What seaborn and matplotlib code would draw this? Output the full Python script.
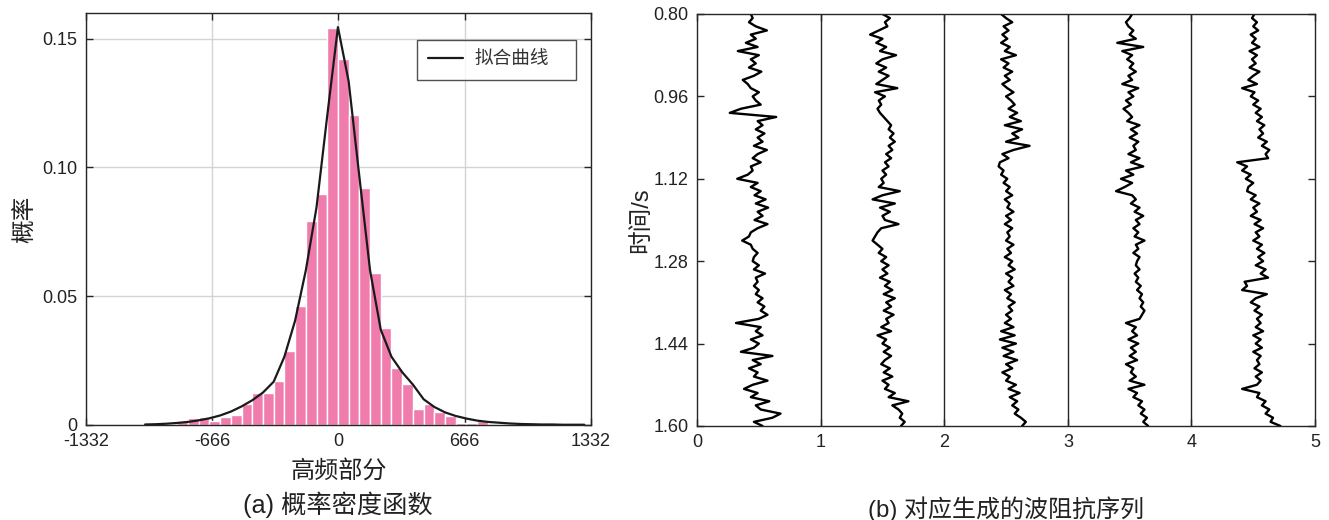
import numpy as np
import pandas as pd
import matplotlib
matplotlib.use("Agg")
import matplotlib.pyplot as plt
import seaborn as sns

# ---------------- data: (a) histogram of high-frequency part ----------------
hist_start = -1020.0      # left edge of first bin
hist_width = 56.5         # bin width
hist_heights = [0.0004, 0.0003, 0.0005, 0.0017, 0.0027, 0.0030, 0.0017, 0.0030,
                0.0039, 0.0082, 0.0126, 0.0126, 0.0170, 0.0289, 0.0462, 0.0791,
                0.0899, 0.1543, 0.1422, 0.1203, 0.0920, 0.0592, 0.0376, 0.0223,
                0.0159, 0.0061, 0.0082, 0.0049, 0.0036, 0.0006, 0.0008, 0.0017,
                0.0003, 0.0002, 0.0001, 0.0001, 0.0000, 0.0000, 0.0000, 0.0001,
                0.0006]
# fitted curve evaluated at the bin edges
fit_curve = [0.0002, 0.0003, 0.0005, 0.0008, 0.0012, 0.0018, 0.0026, 0.0037,
             0.0052, 0.0072, 0.0096, 0.0126, 0.0168, 0.0265, 0.0405, 0.0600,
             0.0845, 0.1200, 0.1545, 0.1335, 0.0965, 0.0600, 0.0370, 0.0265,
             0.0205, 0.0157, 0.0100, 0.0070, 0.0049, 0.0035, 0.0025, 0.0017,
             0.0012, 0.0009, 0.0006, 0.0004, 0.0003, 0.0002, 0.0002, 0.0001,
             0.0001, 0.0001]
hist_xticks = [-1332, -666, 0, 666, 1332]
hist_xticklabels = ["-1332", "-666", "0", "666", "1332"]
hist_yticks = [0, 0.05, 0.10, 0.15]
hist_yticklabels = ["0", "0.05", "0.10", "0.15"]

# ---------------- data: (b) impedance traces (offset within each column) ----------------
t_start, t_end, n_samples = 0.80, 1.60, 101
trace1 = [0.435, 0.45, 0.42, 0.475, 0.565, 0.435, 0.475, 0.395, 0.49, 0.33,
          0.50, 0.435, 0.475, 0.42, 0.52, 0.46, 0.37, 0.41, 0.435, 0.50,
          0.45, 0.475, 0.515, 0.355, 0.265, 0.64, 0.49, 0.53, 0.475, 0.545,
          0.49, 0.53, 0.46, 0.565, 0.49, 0.45, 0.515, 0.435, 0.45, 0.41,
          0.325, 0.49, 0.435, 0.515, 0.465, 0.555, 0.475, 0.575, 0.49, 0.53,
          0.465, 0.57, 0.49, 0.435, 0.42, 0.365, 0.435, 0.45, 0.49, 0.46,
          0.45, 0.50, 0.46, 0.55, 0.475, 0.49, 0.46, 0.50, 0.475, 0.53,
          0.49, 0.545, 0.515, 0.57, 0.50, 0.315, 0.515, 0.475, 0.53, 0.435,
          0.50, 0.46, 0.355, 0.61, 0.45, 0.515, 0.42, 0.49, 0.46, 0.57,
          0.45, 0.38, 0.49, 0.435, 0.585, 0.475, 0.515, 0.675, 0.61, 0.46,
          0.53]
trace2 = [0.50, 0.56, 0.52, 0.54, 0.47, 0.40, 0.50, 0.45, 0.53, 0.48,
          0.61, 0.50, 0.45, 0.53, 0.47, 0.55, 0.50, 0.45, 0.62, 0.44,
          0.52, 0.47, 0.49, 0.46, 0.48, 0.51, 0.54, 0.57, 0.55, 0.59,
          0.56, 0.60, 0.55, 0.58, 0.53, 0.57, 0.52, 0.55, 0.50, 0.53,
          0.49, 0.51, 0.47, 0.64, 0.50, 0.42, 0.60, 0.48, 0.56, 0.50,
          0.52, 0.63, 0.49, 0.46, 0.44, 0.42, 0.46, 0.50, 0.47, 0.53,
          0.49, 0.55, 0.50, 0.54, 0.48, 0.56, 0.52, 0.58, 0.51, 0.60,
          0.53, 0.57, 0.51, 0.59, 0.53, 0.55, 0.49, 0.57, 0.46, 0.53,
          0.50, 0.56, 0.51, 0.57, 0.52, 0.49, 0.56, 0.51, 0.58, 0.50,
          0.55, 0.52, 0.60, 0.55, 0.71, 0.58, 0.63, 0.66, 0.64, 0.68,
          0.65]
trace3 = [0.46, 0.50, 0.55, 0.48, 0.52, 0.47, 0.51, 0.46, 0.53, 0.49,
          0.58, 0.46, 0.52, 0.48, 0.55, 0.49, 0.53, 0.47, 0.51, 0.56,
          0.50, 0.54, 0.57, 0.52, 0.59, 0.53, 0.62, 0.49, 0.63, 0.55,
          0.60, 0.50, 0.69, 0.56, 0.47, 0.52, 0.45, 0.44, 0.48, 0.46,
          0.51, 0.48, 0.53, 0.50, 0.55, 0.49, 0.53, 0.51, 0.56, 0.50,
          0.54, 0.49, 0.55, 0.51, 0.53, 0.50, 0.56, 0.51, 0.54, 0.49,
          0.55, 0.52, 0.57, 0.50, 0.55, 0.52, 0.56, 0.49, 0.54, 0.51,
          0.57, 0.52, 0.55, 0.50, 0.54, 0.49, 0.56, 0.46, 0.57, 0.45,
          0.58, 0.47, 0.56, 0.48, 0.59, 0.50, 0.55, 0.47, 0.53, 0.50,
          0.58, 0.52, 0.61, 0.53, 0.59, 0.55, 0.60, 0.57, 0.62, 0.66,
          0.63]
trace4 = [0.52, 0.50, 0.47, 0.49, 0.53, 0.50, 0.55, 0.40, 0.61, 0.44,
          0.52, 0.48, 0.53, 0.50, 0.55, 0.49, 0.52, 0.44, 0.57, 0.49,
          0.53, 0.47, 0.51, 0.45, 0.49, 0.52, 0.48, 0.58, 0.51, 0.56,
          0.50, 0.57, 0.53, 0.55, 0.49, 0.58, 0.51, 0.61, 0.47, 0.53,
          0.43, 0.52, 0.46, 0.39, 0.52, 0.55, 0.51, 0.58, 0.54, 0.61,
          0.55, 0.58, 0.53, 0.57, 0.54, 0.62, 0.55, 0.57, 0.53, 0.58,
          0.56, 0.55, 0.58, 0.54, 0.57, 0.55, 0.59, 0.56, 0.60, 0.58,
          0.61, 0.59, 0.62, 0.60, 0.58, 0.47, 0.55, 0.52, 0.56, 0.49,
          0.57, 0.51, 0.55, 0.50, 0.56, 0.47, 0.53, 0.51, 0.55, 0.50,
          0.62, 0.49, 0.56, 0.53, 0.60, 0.57, 0.62, 0.59, 0.64, 0.61,
          0.65]
trace5 = [0.51, 0.49, 0.53, 0.50, 0.54, 0.48, 0.52, 0.49, 0.55, 0.47,
          0.53, 0.49, 0.52, 0.47, 0.55, 0.50, 0.46, 0.53, 0.41, 0.51,
          0.48, 0.54, 0.50, 0.56, 0.52, 0.57, 0.53, 0.59, 0.55, 0.58,
          0.54, 0.61, 0.57, 0.63, 0.60, 0.62, 0.37, 0.45, 0.41, 0.48,
          0.44, 0.50, 0.46, 0.45, 0.52, 0.48, 0.55, 0.50, 0.53, 0.48,
          0.56, 0.51, 0.58, 0.52, 0.55, 0.50, 0.57, 0.53, 0.59, 0.54,
          0.58, 0.52, 0.60, 0.56, 0.62, 0.43, 0.45, 0.41, 0.61, 0.52,
          0.48, 0.55, 0.51, 0.57, 0.53, 0.56, 0.52, 0.58, 0.50, 0.56,
          0.52, 0.57, 0.50, 0.56, 0.53, 0.55, 0.51, 0.57, 0.52, 0.56,
          0.53, 0.41, 0.55, 0.53, 0.60, 0.57, 0.63, 0.60, 0.66, 0.64,
          0.72]
traces = [trace1, trace2, trace3, trace4, trace5]
trace_yticks = [0.80, 0.96, 1.12, 1.28, 1.44, 1.60]
trace_yticklabels = ["0.80", "0.96", "1.12", "1.28", "1.44", "1.60"]
trace_xticks = [0, 1, 2, 3, 4, 5]

# ---------------- style ----------------
sns.set_style("white")
plt.rcParams["font.family"] = ["Liberation Sans", "Noto Sans CJK SC", "DejaVu Sans"]
plt.rcParams["axes.unicode_minus"] = False
spine_c = "#262626"
pink = "#F07CAD"

fig = plt.figure(figsize=(13.29, 5.2), dpi=100)
ax1 = fig.add_axes([0.0647, 0.1827, 0.3800, 0.7923])
ax2 = fig.add_axes([0.5245, 0.1808, 0.4650, 0.7923])

# ---------------- (a) ----------------
edges = [float(e) for e in hist_start + hist_width * np.arange(len(hist_heights) + 1)]
centers = [(edges[i] + edges[i + 1]) / 2 for i in range(len(hist_heights))]
hist_df = pd.DataFrame({"x": centers, "w": hist_heights})
sns.histplot(data=hist_df, x="x", weights="w", bins=edges, stat="count",
             color=pink, alpha=1.0, edgecolor="white", linewidth=1.0, ax=ax1)
curve_df = pd.DataFrame({"x": edges, "y": fit_curve})
sns.lineplot(data=curve_df, x="x", y="y", color="#1a1a1a", linewidth=1.6,
             label="拟合曲线", ax=ax1, sort=False, estimator=None)
ax1.set_xlim(-1332, 1332)
ax1.set_ylim(0, 0.16)
ax1.set_xticks(hist_xticks)
ax1.set_xticklabels(hist_xticklabels)
ax1.set_yticks(hist_yticks)
ax1.set_yticklabels(hist_yticklabels)
ax1.grid(True, color="#d4d4d4", linewidth=1.0)
ax1.set_axisbelow(True)
ax1.set_xlabel("高频部分", fontsize=17.4, labelpad=7, color="#222222")
ax1.set_ylabel("概率", fontsize=17, labelpad=3.5, color="#222222")
leg = ax1.legend(loc="upper left", bbox_to_anchor=(0.655, 0.834, 0.315, 0.1),
                 mode="expand", borderaxespad=0, fancybox=False, frameon=True,
                 edgecolor="#262626", fontsize=13.4, handlelength=1.9,
                 borderpad=0.6, handletextpad=0.6)
leg.get_frame().set_linewidth(1.0)
for t in leg.get_texts():
    t.set_color("#333333")

# ---------------- (b) ----------------
times = np.linspace(t_start, t_end, n_samples)
for i, tr in enumerate(traces):
    tdf = pd.DataFrame({"imp": np.asarray(tr) + i, "t": times})
    sns.lineplot(data=tdf, x="imp", y="t", sort=False, estimator=None,
                 color="black", linewidth=1.7, ax=ax2)
for xv in [1, 2, 3, 4]:
    ax2.axvline(xv, color="#262626", linewidth=1.0)
ax2.set_xlim(0, 5)
ax2.set_ylim(1.60, 0.80)
ax2.set_xticks(trace_xticks)
ax2.set_xticklabels([str(v) for v in trace_xticks])
ax2.set_yticks(trace_yticks)
ax2.set_yticklabels(trace_yticklabels)
ax2.set_ylabel("时间/s", fontsize=17, labelpad=1, color="#222222")
ax2.set_xlabel("")

for ax in (ax1, ax2):
    for s in ax.spines.values():
        s.set_visible(True)
        s.set_color(spine_c)
        s.set_linewidth(1.0)
    ax.tick_params(direction="in", length=5, width=1.0, color=spine_c,
                   top=True, right=True, bottom=True, left=True,
                   labelsize=13, labelcolor="#222222", pad=6)

fig.text(338 / 1329, 1 - 505 / 520, "(a) 概率密度函数", ha="center", va="center",
         fontsize=18.2, color="#222222")
fig.text(1006 / 1329, 1 - 509 / 520, "(b) 对应生成的波阻抗序列", ha="center", va="center",
         fontsize=17.3, color="#222222")

fig.savefig("out.png", dpi=100)
